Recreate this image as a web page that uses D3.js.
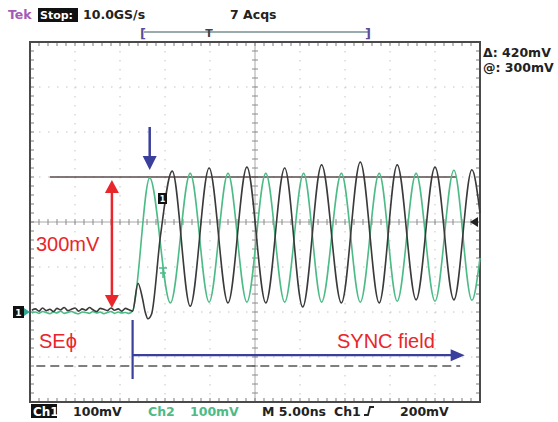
<!DOCTYPE html>
<html><head><meta charset="utf-8">
<script src="https://cdn.jsdelivr.net/npm/d3@7"></script>
<style>body{margin:0;background:#fff}svg{display:block}</style>
</head><body>
<script>
// ---- data (time in ns, relative to screen centre; voltage in mV) ----
const baseT = [-24.8,-24.4,-24.0,-23.6,-23.2,-22.8,-22.4,-22.0,-21.6,-21.2,-20.8,-20.4,-20.0,-19.6,-19.2,-18.8,-18.4,-18.0,-17.6,-17.2,-16.8,-16.4,-16.0,-15.6,-15.2,-14.8,-14.4,-14.0];
const ch1Base = [-196,-193,-198,-191,-197,-194,-199,-192,-195,-190,-197,-194,-191,-198,-193,-196,-190,-195,-199,-192,-194,-197,-191,-196,-193,-198,-192,-195];
const ch2Base = [-202,-200,-203,-199,-201,-204,-200,-202,-198,-203,-201,-199,-202,-204,-200,-201,-203,-199,-202,-200,-204,-201,-199,-203,-200,-202,-201,-203];
// Ch1 (black) after the edge: preamble bump, then SYNC oscillation peaks/troughs
const ch1T  = [-13.6,-13.0,-12.5,-12.2,-11.9,-11.5,-10.5,-9.2,-7.2,-5.1,-3.0,-0.9,1.2,3.3,5.3,7.4,9.6,11.7,13.8,15.8,17.9,20.0,22.1,24.1,25.0];
const ch1mV = [-198,-136,-170,-200,-215,-205,-30,113,-187,120,-180,122,-180,120,-189,127,-180,133,-180,127,-173,122,-173,116,20];
// Ch2 (green)
const ch2T  = [-13.6,-11.7,-9.4,-7.2,-5.1,-3.0,-0.9,1.2,3.3,5.4,7.4,9.6,11.7,13.8,15.8,17.9,20.0,22.1,24.1,25.0];
const ch2mV = [-198,98,-180,108,-178,108,-178,108,-178,108,-178,108,-178,108,-176,108,-176,115,-174,-80];
// annotations (same units)
const refLevel = 100, baseLevel = -200;
const refLineT = [-22.8, 22.4];
const ampArrowT = -15.9;
const startT = -13.6;
const peakMarkT = -11.7;
const syncArrowV = -296, syncArrowEndT = 23.3;
const dashedV = -320, dashedT = [-24.3, 22.8];
const topLabels = {tek:"Tek", stop:"Stop:", rate:"10.0GS/s", acqs:"7 Acqs"};
const cursorLabels = ["Δ: 420mV","@: 300mV"];
const bottomLabels = ["100mV","Ch2","100mV","M 5.00ns","Ch1","200mV"];

const W=558,H=422;
const L=30,R=480,T=42,B=402;
const x=d3.scaleLinear().domain([-25,25]).range([L,R]);
const y=d3.scaleLinear().domain([-400,400]).range([B,T]);

const svg=d3.select("body").append("svg").attr("width",W).attr("height",H);

// grid
const g=svg.append("g");
d3.range(-20,21,5).filter(d=>d!==0).forEach(t=>{
  g.append("line").attr("x1",x(t)).attr("x2",x(t)).attr("y1",T).attr("y2",B)
   .attr("stroke","#c4c4c4").attr("stroke-width",1).attr("stroke-dasharray","1.5,7.5");
});
d3.range(-300,301,100).filter(d=>d!==0).forEach(v=>{
  g.append("line").attr("x1",L).attr("x2",R).attr("y1",y(v)).attr("y2",y(v))
   .attr("stroke","#c4c4c4").attr("stroke-width",1).attr("stroke-dasharray","1.5,7.5");
});
// centre crosshair
g.append("line").attr("x1",x(0)).attr("x2",x(0)).attr("y1",T).attr("y2",B).attr("stroke","#a8a8a8").attr("stroke-width",1);
g.append("line").attr("x1",L).attr("x2",R).attr("y1",y(0)).attr("y2",y(0)).attr("stroke","#a8a8a8").attr("stroke-width",1);
// minor ticks
const minT=d3.range(-25,25.01,1), minV=d3.range(-400,400.1,20);
minT.forEach(t=>{
  g.append("line").attr("x1",x(t)).attr("x2",x(t)).attr("y1",y(0)-3).attr("y2",y(0)+3).attr("stroke","#8a8a8a");
  g.append("line").attr("x1",x(t)).attr("x2",x(t)).attr("y1",T).attr("y2",T+4).attr("stroke","#7a7a7a");
  g.append("line").attr("x1",x(t)).attr("x2",x(t)).attr("y1",B-4).attr("y2",B).attr("stroke","#7a7a7a");
});
minV.forEach(v=>{
  g.append("line").attr("x1",x(0)-3).attr("x2",x(0)+3).attr("y1",y(v)).attr("y2",y(v)).attr("stroke","#8a8a8a");
  g.append("line").attr("x1",L).attr("x2",L+4).attr("y1",y(v)).attr("y2",y(v)).attr("stroke","#7a7a7a");
  g.append("line").attr("x1",R-4).attr("x2",R).attr("y1",y(v)).attr("y2",y(v)).attr("stroke","#7a7a7a");
});
// frame
svg.append("rect").attr("x",L).attr("y",T).attr("width",R-L).attr("height",B-T)
  .attr("fill","none").attr("stroke","#4a4a4a").attr("stroke-width",2);

// dashed line and reference line
svg.append("line").attr("x1",x(dashedT[0])).attr("x2",x(dashedT[1])).attr("y1",y(dashedV)).attr("y2",y(dashedV))
  .attr("stroke","#555").attr("stroke-width",1.5).attr("stroke-dasharray","9,5");
svg.append("line").attr("x1",x(refLineT[0])).attr("x2",x(refLineT[1])).attr("y1",y(refLevel)).attr("y2",y(refLevel))
  .attr("stroke","#5a4b4b").attr("stroke-width",1.3);

// waveforms
const line=d3.line().x(d=>x(d[0])).y(d=>y(d[1])).curve(d3.curveMonotoneX);
const ch2=baseT.map((t,i)=>[t,ch2Base[i]]).concat(ch2T.map((t,i)=>[t,ch2mV[i]]));
const ch1=baseT.map((t,i)=>[t,ch1Base[i]]).concat(ch1T.map((t,i)=>[t,ch1mV[i]]));
svg.append("path").attr("d",line(ch2)).attr("fill","none").attr("stroke","#4cbb86").attr("stroke-width",1.6);
svg.append("path").attr("d",line(ch1)).attr("fill","none").attr("stroke","#3a3a3a").attr("stroke-width",1.6);

// channel markers
svg.append("rect").attr("x",158).attr("y",193).attr("width",9).attr("height",11).attr("fill","#111");
svg.append("text").attr("x",162.5).attr("y",202).attr("text-anchor","middle").attr("fill","#fff")
  .attr("font-family","DejaVu Sans").attr("font-size",8).attr("font-weight","bold").text("1");
svg.append("path").attr("d","M159,268 L167,268 M163,268 L163,278 M160,273 L166,273").attr("stroke","#4cbb86").attr("stroke-width",1.5);
// ground marker at left
svg.append("rect").attr("x",13).attr("y",y(-200)-6).attr("width",11).attr("height",12).attr("fill","#111");
svg.append("text").attr("x",18.5).attr("y",y(-200)+4).attr("text-anchor","middle").attr("fill","#fff")
  .attr("font-family","DejaVu Sans").attr("font-size",9).attr("font-weight","bold").text("1");
svg.append("path").attr("d",`M24,${y(-200)-4} L30,${y(-200)} L24,${y(-200)+4}Z`).attr("fill","#3a9");
// trigger level arrow on right
svg.append("path").attr("d",`M470,${y(0)} L478,${y(0)-5} L478,${y(0)+5}Z`).attr("fill","#222");

// trigger position bar
svg.append("line").attr("x1",144).attr("x2",368).attr("y1",32).attr("y2",32).attr("stroke","#9aabab").attr("stroke-width",2);
svg.append("text").attr("x",140).attr("y",38).attr("font-family","DejaVu Sans").attr("font-size",13).attr("font-weight","bold").attr("fill","#5a4a9a").text("[");
svg.append("text").attr("x",365).attr("y",38).attr("font-family","DejaVu Sans").attr("font-size",13).attr("font-weight","bold").attr("fill","#5a4a9a").text("]");
svg.append("text").attr("x",209).attr("y",37).attr("text-anchor","middle").attr("font-family","DejaVu Sans").attr("font-size",11).attr("font-weight","bold").attr("fill","#444").text("T");

// top labels
const f={"font-family":"DejaVu Sans","font-size":12.5,"font-weight":"bold"};
function tx(xp,yp,s,col){const t=svg.append("text").attr("x",xp).attr("y",yp).attr("fill",col||"#222").text(s);for(const k in f)t.attr(k,f[k]);return t;}
tx(8,19,topLabels.tek,"#a35bb8");
svg.append("rect").attr("x",38).attr("y",8).attr("width",40).attr("height",14).attr("fill","#111");
tx(40,19,topLabels.stop,"#fff").attr("font-size",11);
tx(83,19,topLabels.rate);
tx(230,19,topLabels.acqs);
tx(483,57,cursorLabels[0]);
tx(483,72,cursorLabels[1]);
// bottom labels
svg.append("rect").attr("x",31).attr("y",404).attr("width",26).attr("height",14).attr("fill","#111");
tx(33,416,"Ch1","#fff").attr("font-size",12);
tx(73,416,bottomLabels[0]);
tx(148,416,bottomLabels[1],"#4cbb86");
tx(190,416,bottomLabels[2],"#4cbb86");
tx(262,416,bottomLabels[3]);
tx(334,416,bottomLabels[4]);
svg.append("path").attr("d","M364,415 L368,415 L370,407 L374,407").attr("fill","none").attr("stroke","#222").attr("stroke-width",1.8);
tx(400,416,bottomLabels[5]);

// annotations
const red="#e8262b", blue="#3a3f9c";
const ay1=y(refLevel)+3, ay2=y(baseLevel)-4, ax=x(ampArrowT);
svg.append("line").attr("x1",ax).attr("x2",ax).attr("y1",ay1+10).attr("y2",ay2-10).attr("stroke",red).attr("stroke-width",2.5);
svg.append("path").attr("d",`M${ax},${ay1} L${ax-7},${ay1+13} L${ax+7},${ay1+13}Z`).attr("fill",red);
svg.append("path").attr("d",`M${ax},${ay2} L${ax-7},${ay2-13} L${ax+7},${ay2-13}Z`).attr("fill",red);
const af={"font-family":"Liberation Sans, Arial, sans-serif","font-size":20};
function at(xp,yp,s){const t=svg.append("text").attr("x",xp).attr("y",yp).attr("fill",red).text(s);for(const k in af)t.attr(k,af[k]);return t;}
at(36,251,"300mV");
at(39,348,"SEϕ");
at(337,348,"SYNC field");
// blue down arrow
const bx=x(peakMarkT);
svg.append("line").attr("x1",bx).attr("x2",bx).attr("y1",127).attr("y2",158).attr("stroke",blue).attr("stroke-width",2.5);
svg.append("path").attr("d",`M${bx},170 L${bx-7},156 L${bx+7},156Z`).attr("fill",blue);
// blue start line and sync arrow
const sx=x(startT);
svg.append("line").attr("x1",sx).attr("x2",sx).attr("y1",320).attr("y2",379).attr("stroke",blue).attr("stroke-width",2.2);
const ex=x(syncArrowEndT), sy=y(syncArrowV);
svg.append("line").attr("x1",sx).attr("x2",ex-12).attr("y1",sy).attr("y2",sy).attr("stroke",blue).attr("stroke-width",2.2);
svg.append("path").attr("d",`M${ex},${sy} L${ex-14},${sy-6} L${ex-14},${sy+6}Z`).attr("fill",blue);
</script>
</body></html>
